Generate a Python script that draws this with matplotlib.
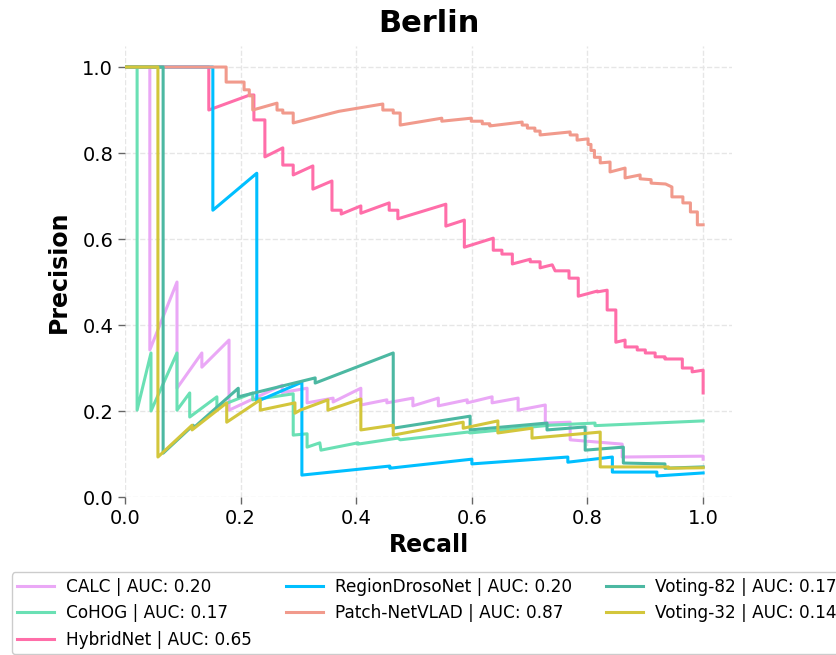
import matplotlib
matplotlib.use('Agg')
import matplotlib.pyplot as plt

# precision / recall curves, Berlin dataset
calc_recall = [0, 0.043, 0.043, 0.090, 0.090, 0.133, 0.133, 0.180, 0.180, 0.272, 0.272, 0.315, 0.315,
               0.360, 0.360, 0.408, 0.408, 0.453, 0.453, 0.498, 0.498, 0.542, 0.542, 0.592, 0.592,
               0.635, 0.635, 0.680, 0.680, 0.727, 0.727, 0.770, 0.770, 0.860, 0.860, 1.0, 1.0]
calc_precision = [1.0, 1.0, 0.342, 0.500, 0.253, 0.335, 0.302, 0.365, 0.202, 0.260, 0.243, 0.253, 0.219,
                  0.230, 0.221, 0.253, 0.214, 0.226, 0.219, 0.230, 0.212, 0.230, 0.212, 0.226, 0.219,
                  0.233, 0.219, 0.230, 0.202, 0.214, 0.172, 0.174, 0.133, 0.123, 0.093, 0.095, 0.088]

cohog_recall = [0, 0.021, 0.021, 0.045, 0.045, 0.090, 0.090, 0.112, 0.112, 0.159, 0.159, 0.221, 0.221,
                0.291, 0.291, 0.315, 0.315, 0.337, 0.339, 0.403, 0.403, 0.472, 0.476, 0.593, 0.597,
                0.735, 0.813, 0.813, 1.0]
cohog_precision = [1.0, 1.0, 0.202, 0.335, 0.200, 0.335, 0.202, 0.242, 0.186, 0.233, 0.209, 0.242, 0.226,
                   0.240, 0.144, 0.147, 0.116, 0.126, 0.109, 0.126, 0.123, 0.137, 0.133, 0.151, 0.149,
                   0.167, 0.172, 0.166, 0.177]

hybrid_recall = [0, 0.145, 0.145, 0.216, 0.223, 0.223, 0.242, 0.242, 0.273, 0.273, 0.291, 0.291, 0.325,
                 0.325, 0.358, 0.358, 0.374, 0.374, 0.408, 0.408, 0.457, 0.457, 0.472, 0.472, 0.555,
                 0.555, 0.587, 0.587, 0.637, 0.637, 0.652, 0.652, 0.670, 0.670, 0.701, 0.701, 0.718,
                 0.718, 0.739, 0.744, 0.768, 0.768, 0.784, 0.784, 0.817, 0.817, 0.834, 0.834, 0.849,
                 0.849, 0.865, 0.865, 0.886, 0.886, 0.900, 0.900, 0.917, 0.917, 0.934, 0.934, 0.964,
                 0.964, 0.981, 0.981, 1.0, 1.0]
hybrid_precision = [1.0, 1.0, 0.900, 0.935, 0.935, 0.877, 0.877, 0.791, 0.812, 0.772, 0.772, 0.749, 0.770,
                    0.716, 0.735, 0.667, 0.667, 0.658, 0.677, 0.660, 0.684, 0.667, 0.667, 0.647, 0.681,
                    0.630, 0.644, 0.581, 0.602, 0.574, 0.574, 0.565, 0.565, 0.542, 0.553, 0.547, 0.547,
                    0.533, 0.540, 0.526, 0.526, 0.509, 0.509, 0.467, 0.479, 0.477, 0.481, 0.435, 0.435,
                    0.360, 0.365, 0.349, 0.349, 0.342, 0.342, 0.335, 0.335, 0.326, 0.326, 0.321, 0.321,
                    0.300, 0.300, 0.291, 0.295, 0.242]

drosonet_recall = [0, 0.152, 0.152, 0.228, 0.228, 0.306, 0.306, 0.458, 0.458, 0.600, 0.600, 0.766, 0.766,
                   0.843, 0.843, 0.920, 0.920, 1.0]
drosonet_precision = [1.0, 1.0, 0.667, 0.753, 0.222, 0.267, 0.051, 0.072, 0.067, 0.088, 0.077, 0.093, 0.081,
                      0.093, 0.058, 0.058, 0.049, 0.056]

netvlad_recall = [0, 0.175, 0.175, 0.206, 0.206, 0.215, 0.215, 0.221, 0.221, 0.263, 0.263, 0.273, 0.273,
                  0.291, 0.291, 0.370, 0.446, 0.446, 0.464, 0.464, 0.476, 0.476, 0.548, 0.548, 0.599,
                  0.599, 0.618, 0.618, 0.631, 0.631, 0.687, 0.687, 0.696, 0.696, 0.709, 0.709, 0.718,
                  0.718, 0.770, 0.770, 0.782, 0.782, 0.801, 0.801, 0.806, 0.806, 0.812, 0.812, 0.822,
                  0.822, 0.839, 0.839, 0.865, 0.865, 0.891, 0.891, 0.910, 0.910, 0.935, 0.946, 0.946,
                  0.965, 0.965, 0.978, 0.978, 0.990, 0.990, 1.0]
netvlad_precision = [1.0, 1.0, 0.965, 0.965, 0.947, 0.947, 0.933, 0.933, 0.900, 0.916, 0.900, 0.900, 0.893,
                     0.893, 0.870, 0.897, 0.914, 0.900, 0.900, 0.893, 0.893, 0.865, 0.881, 0.874, 0.881,
                     0.874, 0.874, 0.868, 0.868, 0.863, 0.872, 0.865, 0.865, 0.858, 0.858, 0.851, 0.851,
                     0.842, 0.849, 0.842, 0.842, 0.830, 0.833, 0.820, 0.820, 0.806, 0.806, 0.790, 0.790,
                     0.777, 0.779, 0.756, 0.765, 0.742, 0.749, 0.740, 0.738, 0.730, 0.728, 0.721, 0.698,
                     0.698, 0.684, 0.684, 0.663, 0.663, 0.633, 0.633]

voting82_recall = [0, 0.066, 0.066, 0.118, 0.118, 0.196, 0.196, 0.329, 0.329, 0.464, 0.464, 0.597, 0.597,
                   0.730, 0.730, 0.796, 0.796, 0.862, 0.862, 0.934, 0.934, 1.0]
voting82_precision = [1.0, 1.0, 0.102, 0.167, 0.160, 0.253, 0.233, 0.277, 0.265, 0.335, 0.160, 0.188, 0.156,
                      0.172, 0.156, 0.163, 0.109, 0.116, 0.079, 0.077, 0.067, 0.070]

voting32_recall = [0, 0.057, 0.057, 0.116, 0.116, 0.176, 0.176, 0.234, 0.234, 0.294, 0.294, 0.303, 0.351,
                   0.351, 0.408, 0.408, 0.464, 0.464, 0.585, 0.585, 0.645, 0.645, 0.704, 0.704, 0.822,
                   0.822, 0.940, 0.940, 1.0]
voting32_precision = [1.0, 1.0, 0.093, 0.167, 0.156, 0.219, 0.174, 0.226, 0.202, 0.219, 0.195, 0.202, 0.226,
                      0.202, 0.228, 0.156, 0.167, 0.144, 0.174, 0.160, 0.177, 0.149, 0.160, 0.137, 0.151,
                      0.070, 0.070, 0.067, 0.068]

names = ['CALC', 'CoHOG', 'HybridNet', 'RegionDrosoNet', 'Patch-NetVLAD', 'Voting-82', 'Voting-32']
aucs = [0.20, 0.17, 0.65, 0.20, 0.87, 0.17, 0.14]
colors = ['#eaa8f6', '#6ae0b4', '#ff6ea9', '#00bfff', '#f19a8c', '#4cb8a2', '#d3c63c']
curves = [(calc_recall, calc_precision), (cohog_recall, cohog_precision),
          (hybrid_recall, hybrid_precision), (drosonet_recall, drosonet_precision),
          (netvlad_recall, netvlad_precision), (voting82_recall, voting82_precision),
          (voting32_recall, voting32_precision)]

fig = plt.figure(figsize=(8.37, 6.55), dpi=100)
ax = fig.add_axes([0.1493, 0.2412, 0.7253, 0.6893])

for (r, p), name, auc, c in zip(curves, names, aucs, colors):
    ax.plot(r, p, color=c, linewidth=2.2, label='{} | AUC: {:.2f}'.format(name, auc))

ax.set_xlim(0, 1.05)
ax.set_ylim(0, 1.05)
ax.set_xticks([0, 0.2, 0.4, 0.6, 0.8, 1.0])
ax.set_yticks([0, 0.2, 0.4, 0.6, 0.8, 1.0])
ax.grid(True, linestyle='--', color='#e6e6e6', linewidth=1)
ax.set_axisbelow(True)
for s in ax.spines.values():
    s.set_visible(False)
ax.tick_params(labelsize=14, color='#666666', length=5, width=1)

ax.set_title('Berlin', fontsize=22, fontweight='bold', pad=10)
ax.set_xlabel('Recall', fontsize=17, fontweight='bold', labelpad=4)
ax.set_ylabel('Precision', fontsize=17, fontweight='bold', labelpad=8)

# legend pinned below the axes, left edge near the figure border
ax.legend(loc='upper left', bbox_to_anchor=(0.014, 0.126), bbox_transform=fig.transFigure,
          borderaxespad=0, ncol=3, fontsize=12.2, handlelength=2.2, handletextpad=0.7,
          borderpad=0.32, edgecolor='#cccccc', framealpha=1)

fig.savefig('out.png', dpi=100)
